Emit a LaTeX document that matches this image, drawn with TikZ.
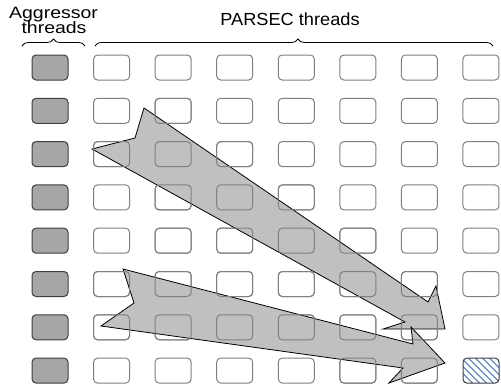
\documentclass[tikz,border=0pt]{standalone}
\usepackage{fontspec}
\setmainfont{Liberation Sans}
\usetikzlibrary{decorations.pathreplacing,calc}
\definecolor{aggfill}{HTML}{A6A6A6}
\definecolor{aggedge}{HTML}{3F3F3F}
\definecolor{pedge}{HTML}{808080}
\definecolor{arrfill}{HTML}{C0C0C0}
\definecolor{hatchblue}{HTML}{4F81BD}
\tikzset{
  cellbox/.style={rectangle, rounded corners=4pt, minimum width=36pt, minimum height=25pt, inner sep=0pt, line width=1pt},
  aggbox/.style={cellbox, fill=aggfill, draw=aggedge},
  parbox/.style={cellbox, fill=white, draw=pedge},
  paroutline/.style={cellbox, draw=pedge},
  hatchbox/.style={cellbox, fill=white, draw=aggedge,
    path picture={\foreach \k in {-49,-42,...,49}
      \draw[hatchblue, line width=1.2pt] ($(path picture bounding box.center)+(\k-25,-25)$) -- ++(50,50);}},
  blockarrow/.style={fill=arrfill, draw=black, line width=0.8pt, line join=miter},
  bracepath/.style={draw=black, line width=0.8pt, decorate},
  lbl/.style={anchor=base, inner sep=0pt, font=\fontsize{16.5}{15}\selectfont}
}
\begin{document}
\begin{tikzpicture}[x=1pt,y=-1pt]
\useasboundingbox (0,0) rectangle (501,388);
% labels
\node[lbl] (agg1) at (53.5,18) {\scalebox{1.18}[1]{Aggressor}};
\node[lbl] (agg2) at (54,33.5) {\scalebox{1.18}[1]{threads}};
\node[lbl, font=\fontsize{17.5}{15}\selectfont] (par) at (290,25) {\scalebox{1.04}[1]{PARSEC threads}};
% braces
\coordinate (ba1) at (22,46);
\coordinate (ba2) at (85,46);
\coordinate (bp1) at (95,46);
\coordinate (bp2) at (493,46);
\draw[bracepath, decoration={brace, amplitude=7pt}] (ba1) -- (ba2);
\draw[bracepath, decoration={brace, amplitude=7pt, aspect=0.51}] (bp1) -- (bp2);
% boxes
\foreach \r in {1,...,8} {
  \node[aggbox] (a\r) at (50,{67.5+43.3*(\r-1)}) {};
  \foreach \c in {2,...,8} {
    \ifnum\r=8 \ifnum\c=8 \else
      \node[parbox] (b\r-\c) at ({50+61.57*(\c-1)},{67.5+43.3*(\r-1)}) {};
    \fi \else
      \node[parbox] (b\r-\c) at ({50+61.57*(\c-1)},{67.5+43.3*(\r-1)}) {};
    \fi
  }
}
\node[hatchbox] (b8-8) at (481,370.6) {};
% block arrows
\draw[blockarrow] (92,149) -- (135,138) -- (144,108) -- (428,302) -- (436,286)
  -- (445,329) -- (383,329) -- (405,322) -- cycle;
\draw[blockarrow] (101,326) -- (134,303) -- (123,269) -- (413,344) -- (411,327)
  -- (445,363) -- (389,383) -- (403,368) -- cycle;
% box outlines seen through the arrows
\foreach \r/\c in {2/3,3/2,3/3,4/3,4/4,4/5,5/4,5/5,5/6,6/6,6/7,7/7,6/2,6/3,6/4,6/5,7/2,7/3,7/4,7/5,7/6,8/6,8/7,3/4,5/3} {
  \node[paroutline] (o\r-\c) at (b\r-\c.center) {};
}
\end{tikzpicture}
\end{document}
